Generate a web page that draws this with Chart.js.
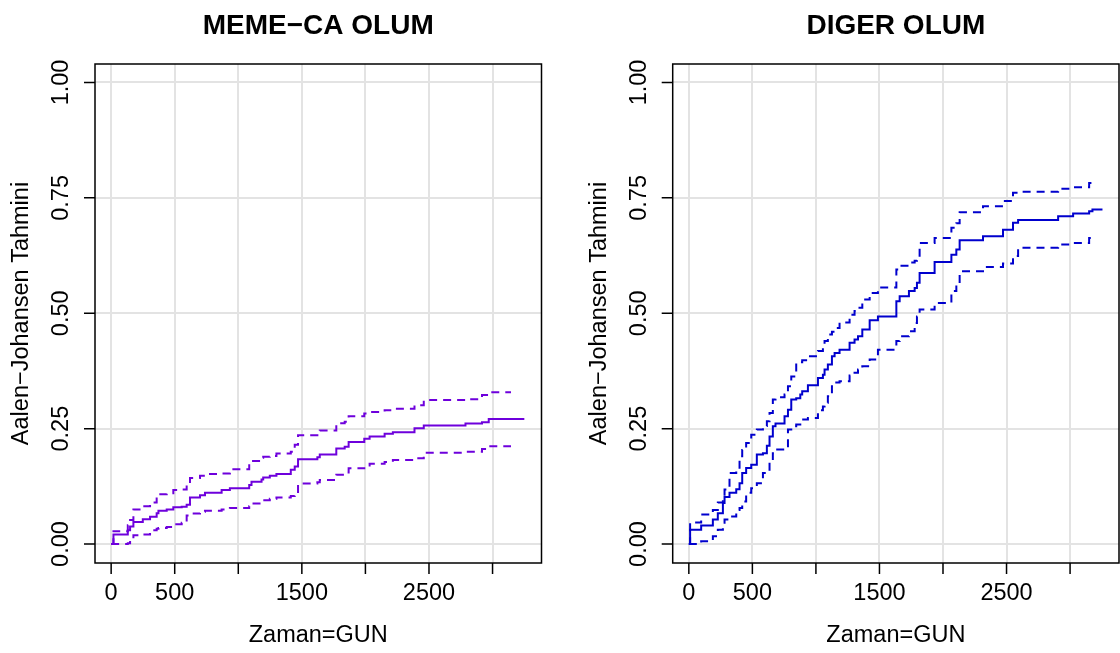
<!DOCTYPE html>
<html>
<head>
<meta charset="utf-8">
<script src="https://cdn.jsdelivr.net/npm/chart.js@4.4.0/dist/chart.umd.min.js"></script>
<style>
  html, body { margin: 0; padding: 0; background: #fff; }
  #wrap { position: relative; width: 1120px; height: 653px; }
  canvas { position: absolute; top: 0; }
  #leftChart { left: 0; }
  #rightChart { left: 560px; }
</style>
</head>
<body>
<div id="wrap">
  <canvas id="leftChart" width="560" height="653"></canvas>
  <canvas id="rightChart" width="560" height="653"></canvas>
</div>
<script>
// ----------------- Ejes -----------------

const xTickValues = [0, 500, 1000, 1500, 2000, 2500, 3000];
const xTickLabels = ['0', '500', '', '1500', '', '2500', ''];
const yTickValues = [0, 0.25, 0.5, 0.75, 1];
const yTickLabels = ['0.00', '0.25', '0.50', '0.75', '1.00'];

// ----------------- MEME-CA OLUM -----------------

const memeTimes = [0, 18, 131, 149, 175, 249, 306, 358, 372, 437, 489, 555, 594, 620, 699, 738, 869, 934,
  1086, 1104, 1183, 1196, 1248, 1300, 1413, 1444, 1470, 1622, 1641, 1771, 1837, 1868, 1991, 2033,
  2151, 2216, 2386, 2459, 2787, 2917, 2970];
const memeEst = [0, 0.021, 0.030, 0.038, 0.048, 0.054, 0.059, 0.067, 0.072, 0.075, 0.080, 0.081, 0.085,
  0.101, 0.106, 0.111, 0.117, 0.121, 0.128, 0.135, 0.140, 0.144, 0.148, 0.152, 0.161, 0.168, 0.184,
  0.188, 0.194, 0.207, 0.211, 0.221, 0.228, 0.233, 0.239, 0.242, 0.251, 0.257, 0.261, 0.264, 0.271];
const memeUpper = [0, 0.028, 0.041, 0.052, 0.075, 0.082, 0.090, 0.103, 0.108, 0.110, 0.117, 0.118, 0.131,
  0.143, 0.148, 0.152, 0.153, 0.162, 0.175, 0.180, 0.187, 0.189, 0.191, 0.196, 0.200, 0.215, 0.236,
  0.243, 0.246, 0.262, 0.265, 0.277, 0.283, 0.286, 0.290, 0.293, 0.301, 0.312, 0.314, 0.323, 0.329];
const memeLower = [0, 0, 0.002, 0.010, 0.019, 0.021, 0.030, 0.033, 0.035, 0.037, 0.043, 0.046, 0.062,
  0.066, 0.070, 0.072, 0.075, 0.078, 0.082, 0.088, 0.093, 0.095, 0.098, 0.101, 0.104, 0.108, 0.131,
  0.134, 0.139, 0.150, 0.155, 0.164, 0.170, 0.174, 0.178, 0.182, 0.186, 0.198, 0.200, 0.206, 0.212];
const memeEstEnd = 3250;
const memeCiEnd = 3145;

// ----------------- DIGER OLUM -----------------

const digerTimes = [0, 10, 97, 189, 228, 268, 281, 320, 373, 399, 420, 451, 491, 535, 583, 614, 635, 661,
  682, 753, 780, 806, 845, 877, 892, 937, 1016, 1055, 1068, 1094, 1126, 1147, 1186, 1265, 1304, 1331,
  1365, 1423, 1488, 1633, 1659, 1732, 1777, 1795, 1816, 1934, 2066, 2105, 2131, 2315, 2472, 2551,
  2591, 2906, 3024, 3150, 3176];
const digerEst = [0, 0.031, 0.040, 0.053, 0.067, 0.089, 0.102, 0.111, 0.119, 0.132, 0.154, 0.165, 0.172,
  0.194, 0.197, 0.213, 0.233, 0.255, 0.261, 0.277, 0.291, 0.313, 0.316, 0.324, 0.331, 0.344, 0.360,
  0.367, 0.378, 0.389, 0.407, 0.414, 0.421, 0.436, 0.443, 0.450, 0.465, 0.485, 0.493, 0.526, 0.537,
  0.548, 0.555, 0.566, 0.587, 0.611, 0.627, 0.638, 0.658, 0.667, 0.681, 0.696, 0.702, 0.710, 0.716,
  0.721, 0.725];
const digerUpper = [0, 0.047, 0.064, 0.074, 0.090, 0.103, 0.118, 0.154, 0.161, 0.190, 0.204, 0.219, 0.237,
  0.248, 0.256, 0.266, 0.284, 0.313, 0.318, 0.324, 0.342, 0.363, 0.392, 0.394, 0.398, 0.407, 0.418,
  0.430, 0.440, 0.454, 0.460, 0.468, 0.480, 0.497, 0.505, 0.512, 0.530, 0.544, 0.556, 0.595, 0.603,
  0.610, 0.614, 0.616, 0.652, 0.663, 0.685, 0.695, 0.719, 0.732, 0.743, 0.761, 0.763, 0.770, 0.773,
  0.782];
const digerLower = [0, 0, 0.006, 0.017, 0.031, 0.046, 0.053, 0.060, 0.074, 0.078, 0.092, 0.111, 0.121,
  0.132, 0.154, 0.161, 0.180, 0.197, 0.205, 0.212, 0.248, 0.255, 0.259, 0.266, 0.270, 0.273, 0.290,
  0.298, 0.306, 0.320, 0.342, 0.350, 0.353, 0.365, 0.371, 0.378, 0.385, 0.400, 0.421, 0.440, 0.450,
  0.461, 0.479, 0.493, 0.508, 0.522, 0.548, 0.562, 0.591, 0.600, 0.608, 0.624, 0.642, 0.649, 0.652,
  0.663];
const digerEstEnd = 3255;
const digerCiEnd = 3168;

// ----------------- Helpers -----------------

const FONT = '"Liberation Sans", Arial, Helvetica, sans-serif';
const X_MIN = -127;
const X_MAX = 3385;
const Y_MIN = -0.041;
const Y_MAX = 1.04;

// escalones: cada valor vale desde su tiempo hasta el siguiente
function stepPoints(times, values, endTime) {
  const pts = [];
  for (let i = 0; i < values.length; i++) {
    if (times[i] > endTime) break;
    pts.push({ x: times[i], y: values[i] });
  }
  pts.push({ x: endTime, y: pts[pts.length - 1].y });
  return pts;
}

// marco estilo R: caja, marcas, etiquetas giradas y titulos
const rFrame = {
  id: 'rFrame',
  afterDraw(chart, args, opts) {
    const { ctx, chartArea: a } = chart;
    const xs = chart.scales.x;
    const ys = chart.scales.y;
    ctx.save();
    ctx.strokeStyle = '#000';
    ctx.lineWidth = 1.5;
    ctx.strokeRect(a.left, a.top, a.right - a.left, a.bottom - a.top);

    ctx.beginPath();
    xTickValues.forEach(v => {
      const px = xs.getPixelForValue(v);
      ctx.moveTo(px, a.bottom);
      ctx.lineTo(px, a.bottom + 11);
    });
    yTickValues.forEach(v => {
      const py = ys.getPixelForValue(v);
      ctx.moveTo(a.left, py);
      ctx.lineTo(a.left - 11, py);
    });
    ctx.stroke();

    ctx.fillStyle = '#000';
    ctx.font = `23.5px ${FONT}`;
    ctx.textAlign = 'center';
    ctx.textBaseline = 'middle';
    xTickValues.forEach((v, i) => {
      if (xTickLabels[i]) ctx.fillText(xTickLabels[i], xs.getPixelForValue(v), a.bottom + 31);
    });
    ctx.fillText(opts.xTitle, (a.left + a.right) / 2, a.bottom + 73);

    yTickValues.forEach((v, i) => {
      ctx.save();
      ctx.translate(a.left - 33.5, ys.getPixelForValue(v));
      ctx.rotate(-Math.PI / 2);
      ctx.fillText(yTickLabels[i], 0, 0);
      ctx.restore();
    });
    ctx.save();
    ctx.translate(a.left - 73, (a.top + a.bottom) / 2);
    ctx.rotate(-Math.PI / 2);
    ctx.fillText(opts.yTitle, 0, 0);
    ctx.restore();

    ctx.font = `bold 28px ${FONT}`;
    ctx.fillText(opts.title, (a.left + a.right) / 2, 26);
    ctx.restore();
  }
};

function makePanel(canvasId, padding, color, title, times, est, upper, lower, estEnd, ciEnd) {
  const ctx = document.getElementById(canvasId).getContext('2d');
  const ciStyle = {
    borderColor: color,
    borderWidth: 2,
    borderDash: [8, 6],
    stepped: true,
    pointRadius: 0,
    fill: false
  };
  return new Chart(ctx, {
    type: 'line',
    data: {
      datasets: [
        {
          label: 'Tahmin',
          data: stepPoints(times, est, estEnd),
          borderColor: color,
          borderWidth: 2,
          stepped: true,
          pointRadius: 0,
          fill: false
        },
        Object.assign({ label: 'Ust', data: stepPoints(times, upper, ciEnd) }, ciStyle),
        Object.assign({ label: 'Alt', data: stepPoints(times, lower, ciEnd) }, ciStyle)
      ]
    },
    options: {
      responsive: false,
      animation: false,
      devicePixelRatio: 1,
      events: [],
      layout: { padding },
      plugins: {
        legend: { display: false },
        tooltip: { enabled: false },
        rFrame: {
          title,
          xTitle: 'Zaman=GUN',
          yTitle: 'Aalen\u2212Johansen Tahmini'
        }
      },
      scales: {
        x: {
          type: 'linear',
          min: X_MIN,
          max: X_MAX,
          afterBuildTicks: s => { s.ticks = xTickValues.map(v => ({ value: v })); },
          afterFit: s => { s.height = 0; },
          ticks: { display: false },
          grid: { color: '#e3e3e3', lineWidth: 2, drawTicks: false },
          border: { display: false }
        },
        y: {
          type: 'linear',
          min: Y_MIN,
          max: Y_MAX,
          afterBuildTicks: s => { s.ticks = yTickValues.map(v => ({ value: v })); },
          afterFit: s => { s.width = 0; },
          ticks: { display: false },
          grid: { color: '#e3e3e3', lineWidth: 2, drawTicks: false },
          border: { display: false }
        }
      }
    },
    plugins: [rFrame]
  });
}

makePanel('leftChart', { left: 95, right: 18.5, top: 64, bottom: 90 }, '#6e00dc',
  'MEME\u2212CA OLUM', memeTimes, memeEst, memeUpper, memeLower, memeEstEnd, memeCiEnd);
makePanel('rightChart', { left: 112.7, right: 1, top: 64, bottom: 90 }, '#0000cd',
  'DIGER OLUM', digerTimes, digerEst, digerUpper, digerLower, digerEstEnd, digerCiEnd);
</script>
</body>
</html>
